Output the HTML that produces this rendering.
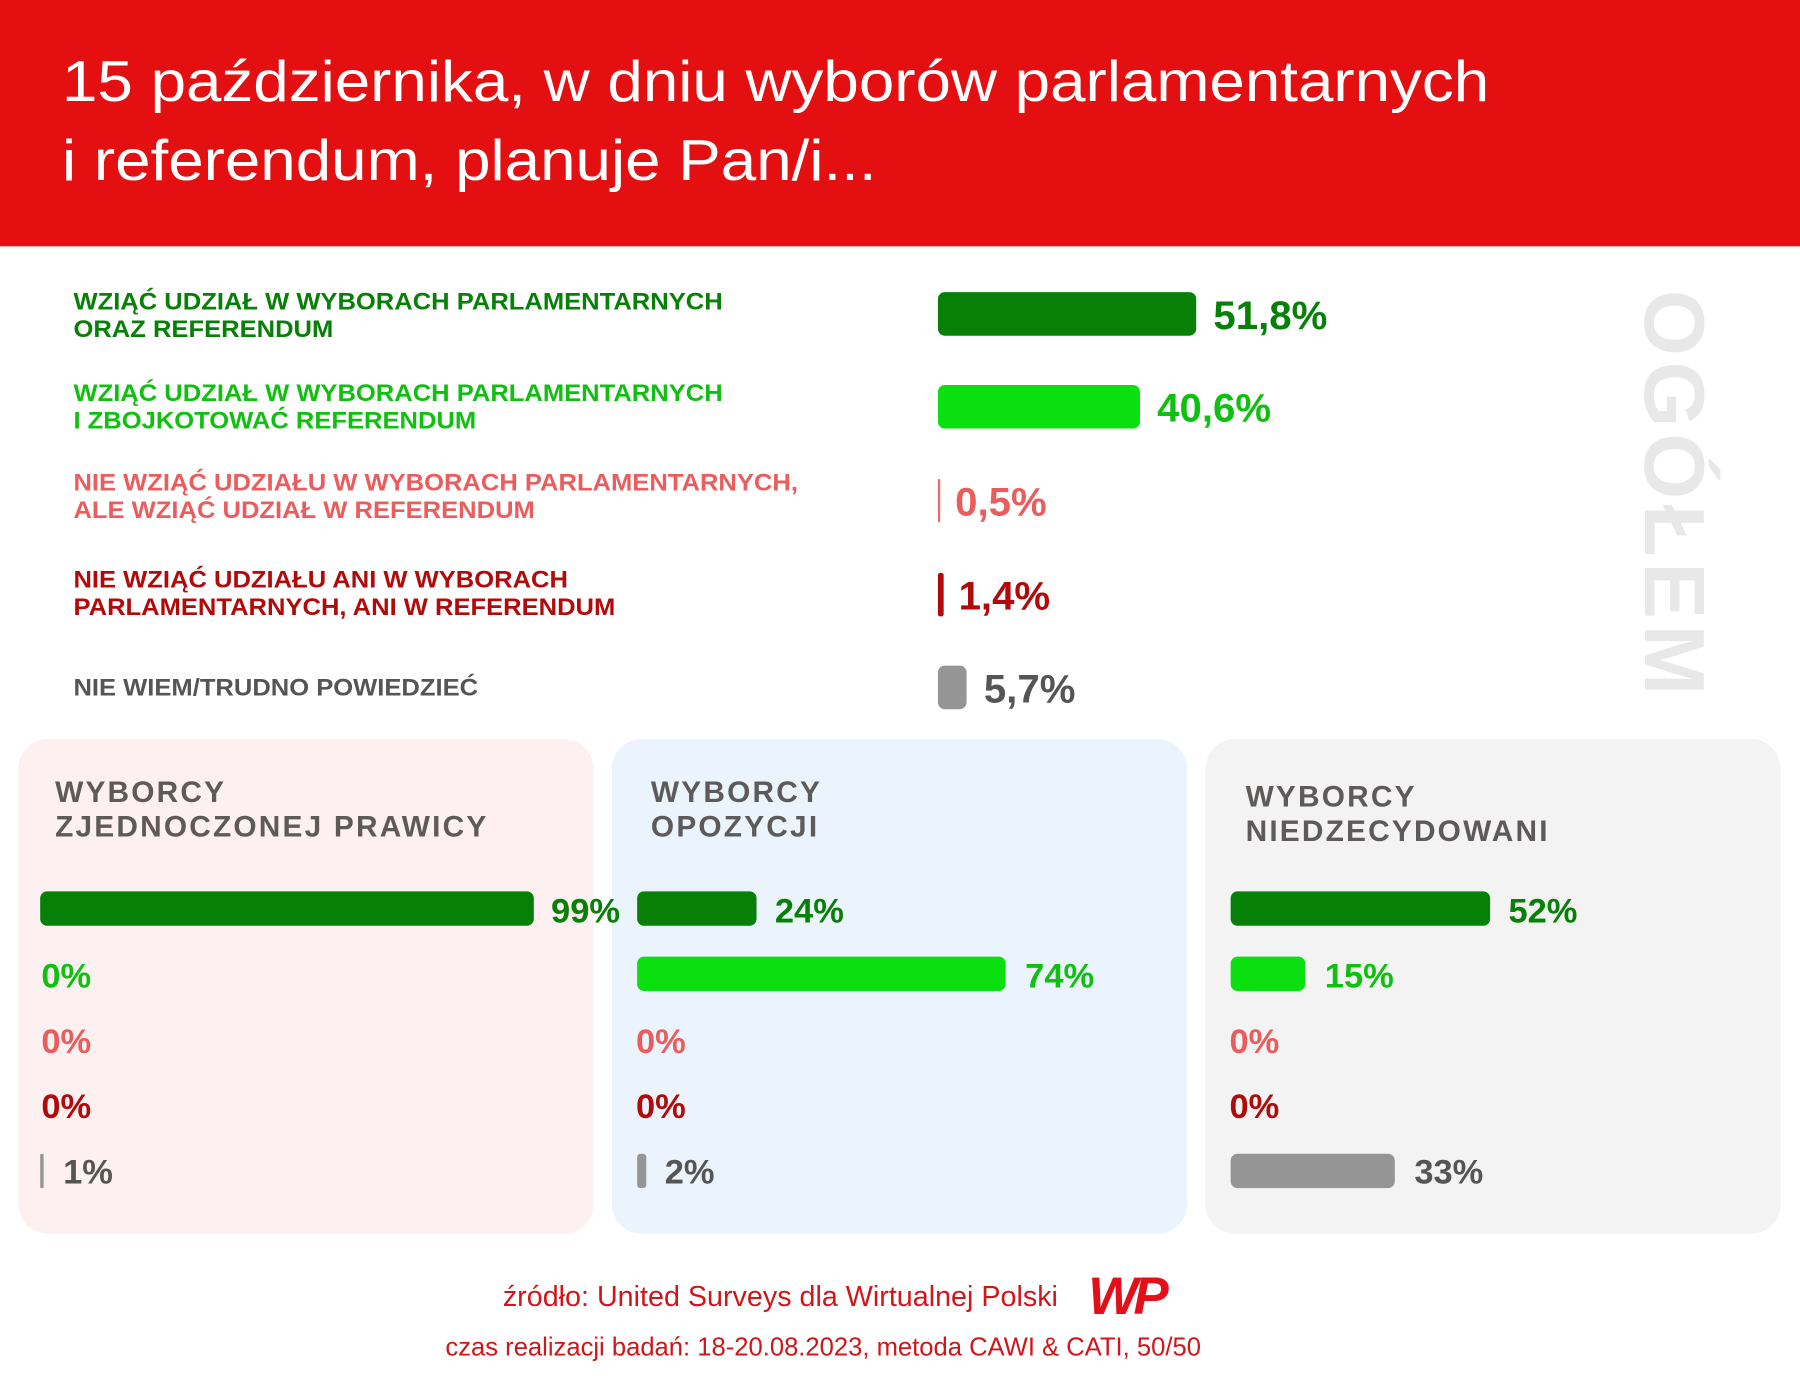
<!DOCTYPE html>
<html><head><meta charset="utf-8"><style>
body{margin:0;width:1800px;height:1400px;overflow:hidden;background:#fff;}
#w{position:absolute;left:0;top:0;width:1568px;height:1222px;transform:scale(1.148,1.1457);transform-origin:0 0;font-family:"Liberation Sans",sans-serif;}
.a{position:absolute;white-space:nowrap;}
.hd{left:0;top:0;width:1568px;height:215px;background:#e30f10;}
.t{color:#fff;font-size:50px;left:54px;transform:scaleX(1.11);transform-origin:0 0;}
.lb{font-weight:bold;font-size:21px;line-height:24px;left:64px;transform:scaleX(1.06);transform-origin:0 0;}
.bar{position:absolute;border-radius:6px;}
.v{font-weight:bold;font-size:35px;}
.p{position:absolute;top:645px;height:432px;width:501px;border-radius:26px;}
.pt{font-weight:bold;font-size:26px;line-height:30px;color:#5e5a5a;letter-spacing:1.9px;}
.pv{font-weight:bold;font-size:30px;}
</style></head><body><div id="w">
<div class="a hd"></div>
<div class="a t" style="top:42px">15 października, w dniu wyborów parlamentarnych</div>
<div class="a t" style="top:111px">i referendum, planuje Pan/i...</div>

<div class="a lb" style="top:252px;color:#078007">WZIĄĆ UDZIAŁ W WYBORACH PARLAMENTARNYCH<br>ORAZ REFERENDUM</div>
<div class="a lb" style="top:332px;color:#10c010">WZIĄĆ UDZIAŁ W WYBORACH PARLAMENTARNYCH<br>I ZBOJKOTOWAĆ REFERENDUM</div>
<div class="a lb" style="top:410px;color:#ea5d5d">NIE WZIĄĆ UDZIAŁU W WYBORACH PARLAMENTARNYCH,<br>ALE WZIĄĆ UDZIAŁ W REFERENDUM</div>
<div class="a lb" style="top:495px;color:#b10a0a">NIE WZIĄĆ UDZIAŁU ANI W WYBORACH<br>PARLAMENTARNYCH, ANI W REFERENDUM</div>
<div class="a lb" style="top:589px;color:#555">NIE WIEM/TRUDNO POWIEDZIEĆ</div>

<div class="bar" style="left:817px;top:255px;width:225px;height:38px;background:#078007"></div>
<div class="bar" style="left:817px;top:336px;width:176px;height:38px;background:#0ae00f"></div>
<div class="bar" style="left:817px;top:418px;width:2px;height:38px;background:#ea6a6a;border-radius:1px"></div>
<div class="bar" style="left:817px;top:500px;width:5px;height:38px;background:#b10a0a;border-radius:2px"></div>
<div class="bar" style="left:817px;top:581px;width:25px;height:38px;background:#959595"></div>
<div class="a v" style="left:1057px;top:256px;color:#078007">51,8%</div>
<div class="a v" style="left:1008px;top:337px;color:#10c010">40,6%</div>
<div class="a v" style="left:832px;top:419px;color:#ea5d5d">0,5%</div>
<div class="a v" style="left:835px;top:501px;color:#b10a0a">1,4%</div>
<div class="a v" style="left:857px;top:582px;color:#555">5,7%</div>
<div class="a" style="left:1418px;top:253px;writing-mode:vertical-rl;font-weight:bold;font-size:74px;color:#e8e8e8;letter-spacing:5px;line-height:80px">OGÓŁEM</div>

<div class="p" style="left:16px;background:#fdf0f0"></div>
<div class="p" style="left:533px;background:#ebf4fd"></div>
<div class="p" style="left:1050px;background:#f3f3f3"></div>
<div class="a pt" style="left:48px;top:676px">WYBORCY<br>ZJEDNOCZONEJ PRAWICY</div>
<div class="a pt" style="left:567px;top:676px">WYBORCY<br>OPOZYCJI</div>
<div class="a pt" style="left:1085px;top:680px">WYBORCY<br>NIEDZECYDOWANI</div>

<div class="bar" style="left:35px;top:778px;width:430px;height:30px;background:#078007"></div>
<div class="a pv" style="left:480px;top:779px;color:#078007">99%</div>
<div class="a pv" style="left:36px;top:836px;color:#10c010">0%</div>
<div class="a pv" style="left:36px;top:893px;color:#ea5d5d">0%</div>
<div class="a pv" style="left:36px;top:950px;color:#b10a0a">0%</div>
<div class="bar" style="left:35px;top:1007px;width:3px;height:30px;background:#959595;border-radius:1px"></div>
<div class="a pv" style="left:55px;top:1007px;color:#555">1%</div>

<div class="bar" style="left:555px;top:778px;width:104px;height:30px;background:#078007"></div>
<div class="a pv" style="left:675px;top:779px;color:#078007">24%</div>
<div class="bar" style="left:555px;top:835px;width:321px;height:30px;background:#0ae00f"></div>
<div class="a pv" style="left:893px;top:836px;color:#10c010">74%</div>
<div class="a pv" style="left:554px;top:893px;color:#ea5d5d">0%</div>
<div class="a pv" style="left:554px;top:950px;color:#b10a0a">0%</div>
<div class="bar" style="left:555px;top:1007px;width:8px;height:30px;background:#959595;border-radius:3px"></div>
<div class="a pv" style="left:579px;top:1007px;color:#555">2%</div>

<div class="bar" style="left:1072px;top:778px;width:226px;height:30px;background:#078007"></div>
<div class="a pv" style="left:1314px;top:779px;color:#078007">52%</div>
<div class="bar" style="left:1072px;top:835px;width:65px;height:30px;background:#0ae00f"></div>
<div class="a pv" style="left:1154px;top:836px;color:#10c010">15%</div>
<div class="a pv" style="left:1071px;top:893px;color:#ea5d5d">0%</div>
<div class="a pv" style="left:1071px;top:950px;color:#b10a0a">0%</div>
<div class="bar" style="left:1072px;top:1007px;width:143px;height:30px;background:#959595"></div>
<div class="a pv" style="left:1232px;top:1007px;color:#555">33%</div>

<div class="a" style="left:438px;top:1118px;font-size:25px;color:#d0161a">źródło: United Surveys dla Wirtualnej Polski</div>
<div class="a" style="left:948px;top:1104px;font-size:46px;font-weight:bold;font-style:italic;color:#e3101a;letter-spacing:-4px">WP</div>
<div class="a" style="left:388px;top:1163px;font-size:22.3px;color:#d0161a">czas realizacji badań: 18-20.08.2023, metoda CAWI &amp; CATI, 50/50</div>
</div></body></html>
